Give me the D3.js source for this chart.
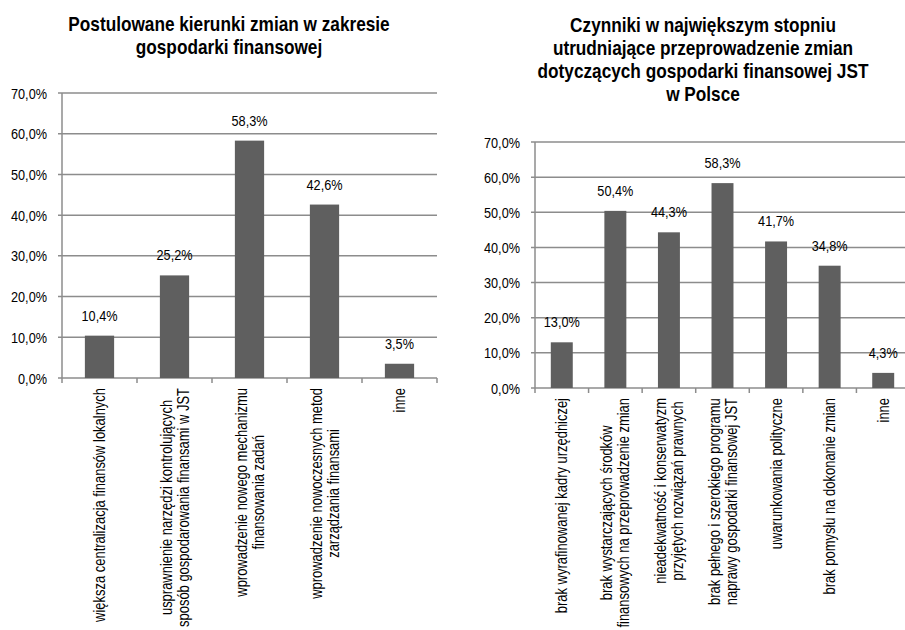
<!DOCTYPE html>
<html>
<head>
<meta charset="utf-8">
<script src="https://cdn.jsdelivr.net/npm/d3@7"></script>
<style>
    body { margin: 0; background: #fff; }
    svg text { font-family: "Liberation Sans", Arial, sans-serif; fill: #000; }
</style>
</head>
<body>
<svg id="chart" width="905" height="630"></svg>
<script>
// Data //
const leftTitle = ["Postulowane kierunki zmian w zakresie", "gospodarki finansowej"]
const leftLabels = [
    ["większa centralizacja finansów lokalnych"],
    ["usprawnienie narzędzi kontrolujących", "sposób gospodarowania finansami w JST"],
    ["wprowadzenie nowego mechanizmu", "finansowania zadań"],
    ["wprowadzenie nowoczesnych metod", "zarządzania finansami"],
    ["inne"]
]
const leftValues = [10.4, 25.2, 58.3, 42.6, 3.5]

const rightTitle = ["Czynniki w największym stopniu", "utrudniające przeprowadzenie zmian",
    "dotyczących gospodarki finansowej JST", "w Polsce"]
const rightLabels = [
    ["brak wyrafinowanej kadry urzędniczej"],
    ["brak wystarczających środków", "finansowych na przeprowadzenie zmian"],
    ["nieadekwatność i konserwatyzm", "przyjętych rozwiązań prawnych"],
    ["brak pełnego i szerokiego programu", "naprawy gospodarki finansowej JST"],
    ["uwarunkowania polityczne"],
    ["brak pomysłu na dokonanie zmian"],
    ["inne"]
]
const rightValues = [13.0, 50.4, 44.3, 58.3, 41.7, 34.8, 4.3]

const yTicks = [0, 10, 20, 30, 40, 50, 60, 70]

const fmt = v => v.toFixed(1).replace(".", ",") + "%"

// narrow look, like Arial Narrow
const SQ = 0.82

const svg = d3.select("#chart")

function drawChart(opt) {
    var g = svg.append("g")

    // title //
    g.selectAll(".title")
        .data(opt.title)
        .enter()
        .append("text")
        .attr("transform", (d, i) => "translate(" + opt.titleX + "," + (opt.titleY + i * 23) + ") scale(" + SQ + ",1)")
        .attr("text-anchor", "middle")
        .attr("font-size", "21px")
        .attr("font-weight", "bold")
        .text(d => d)

    var x = d3.scaleBand()
        .domain(d3.range(opt.values.length))
        .range([opt.x0, opt.x1])
        .paddingInner(opt.pad)
        .paddingOuter(opt.pad / 2)

    var y = d3.scaleLinear()
        .domain([0, 70])
        .range([opt.y0, opt.y1])

    // gridlines //
    g.selectAll(".grid")
        .data(yTicks)
        .enter()
        .append("line")
        .attr("x1", opt.x0 - 4)
        .attr("x2", opt.x1)
        .attr("y1", d => y(d))
        .attr("y2", d => y(d))
        .attr("stroke", "#8c8c8c")
        .attr("stroke-width", 1.5)

    // y axis line //
    g.append("line")
        .attr("x1", opt.x0).attr("x2", opt.x0)
        .attr("y1", y(70)).attr("y2", y(0) + 5)
        .attr("stroke", "#8c8c8c")
        .attr("stroke-width", 1.5)

    // category ticks //
    var step = (opt.x1 - opt.x0) / opt.values.length
    g.selectAll(".ctick")
        .data(d3.range(1, opt.values.length + 1))
        .enter()
        .append("line")
        .attr("x1", d => opt.x0 + d * step)
        .attr("x2", d => opt.x0 + d * step)
        .attr("y1", y(0))
        .attr("y2", y(0) + 5)
        .attr("stroke", "#8c8c8c")
        .attr("stroke-width", 1.5)

    // y tick labels //
    g.selectAll(".ylab")
        .data(yTicks)
        .enter()
        .append("text")
        .attr("transform", d => "translate(" + (opt.x0 - 15) + "," + (y(d) + 5.5) + ") scale(" + SQ + ",1)")
        .attr("text-anchor", "end")
        .attr("font-size", "15.5px")
        .text(d => fmt(d))

    // bars //
    g.selectAll(".bar")
        .data(opt.values)
        .enter()
        .append("rect")
        .attr("x", (d, i) => x(i))
        .attr("width", x.bandwidth())
        .attr("y", d => y(d))
        .attr("height", d => y(0) - y(d))
        .attr("fill", "#5f5f5f")

    // value labels //
    g.selectAll(".vlab")
        .data(opt.values)
        .enter()
        .append("text")
        .attr("transform", (d, i) => "translate(" + (x(i) + x.bandwidth() / 2) + "," + (y(d) - 15) + ") scale(" + SQ + ",1)")
        .attr("text-anchor", "middle")
        .attr("font-size", "15.5px")
        .text(d => fmt(d))

    // category labels //
    opt.labels.forEach((lines, i) => {
        var cx = x(i) + x.bandwidth() / 2
        var lg = g.append("g")
            .attr("transform", "translate(" + cx + "," + (y(0) + 10) + ") rotate(-90) scale(" + SQ + ",1)")
        var texts = lg.selectAll("text")
            .data(lines)
            .enter()
            .append("text")
            .attr("font-size", "15.8px")
            .attr("text-anchor", "middle")
            .attr("dy", (d, j) => (j - (lines.length - 1) / 2) * 17 + 5.5)
            .text(d => d)
        var maxLen = d3.max(texts.nodes(), n => n.getComputedTextLength())
        texts.attr("x", -maxLen / 2)
    })
}

drawChart({
    title: leftTitle, titleX: 229, titleY: 31,
    values: leftValues, labels: leftLabels,
    x0: 62, x1: 437, y0: 378, y1: 93, pad: 0.61
})

drawChart({
    title: rightTitle, titleX: 703, titleY: 32,
    values: rightValues, labels: rightLabels,
    x0: 535, x1: 910, y0: 388, y1: 142, pad: 0.59
})
</script>
</body>
</html>
